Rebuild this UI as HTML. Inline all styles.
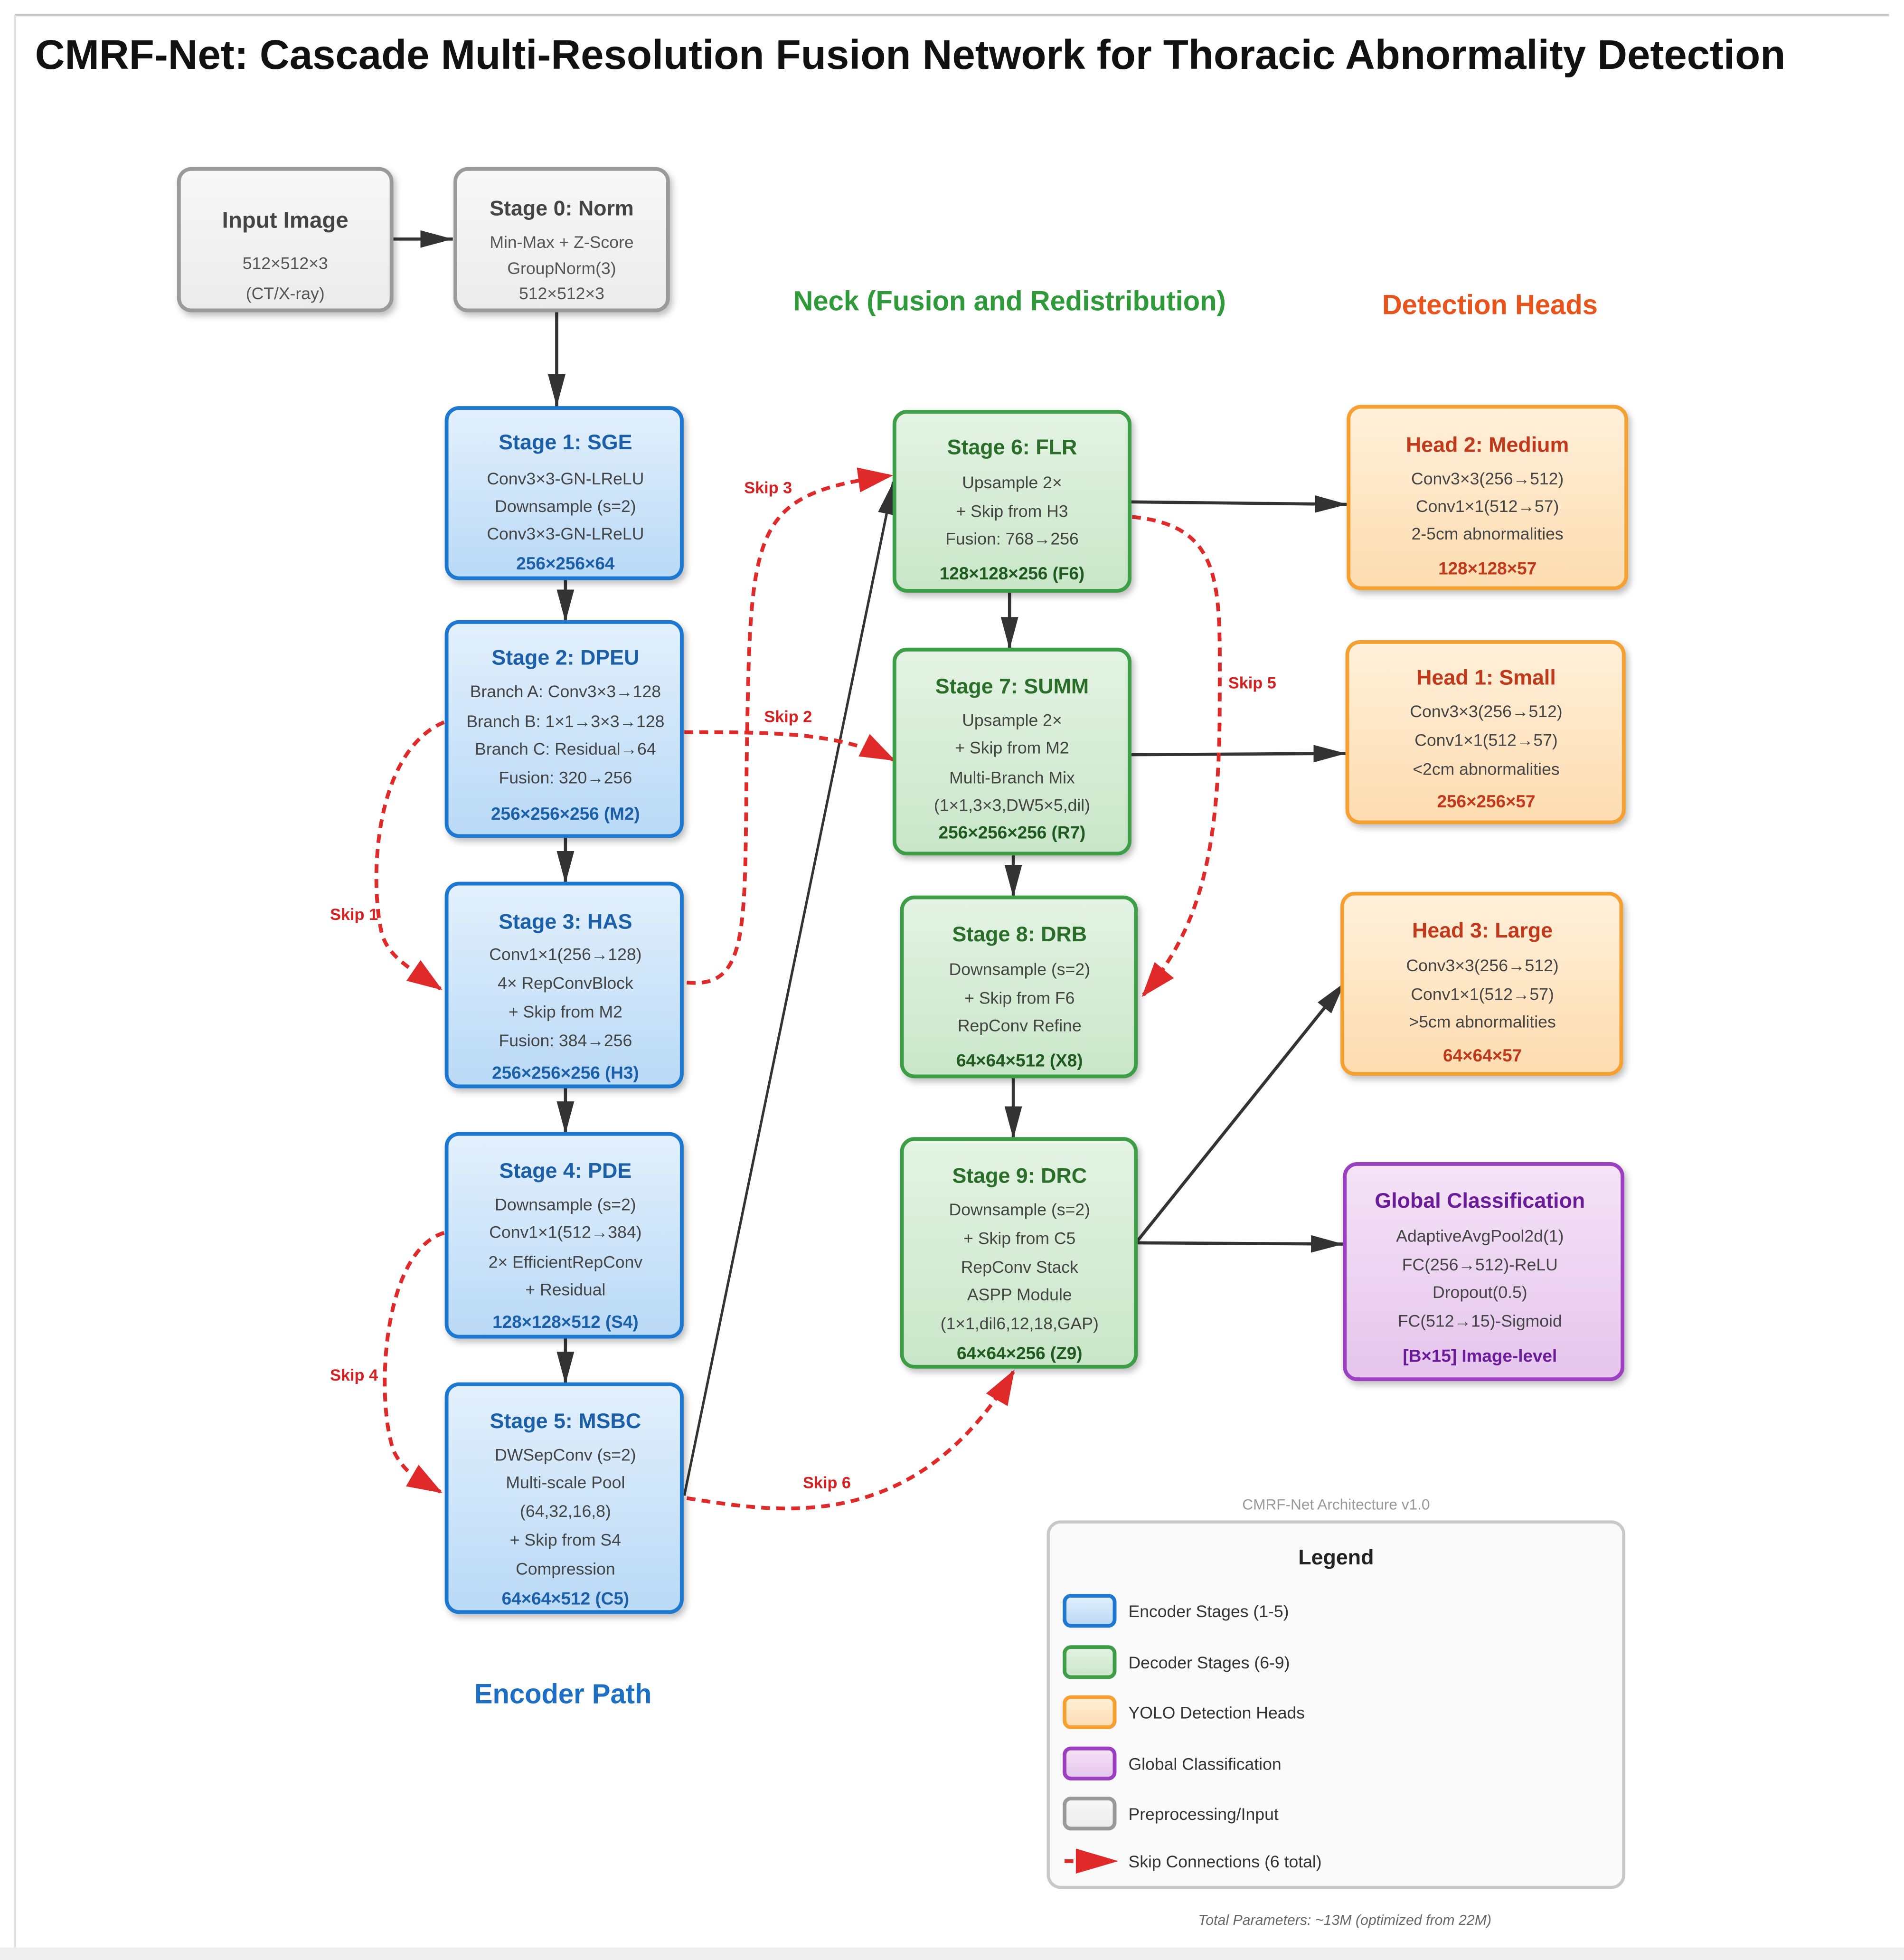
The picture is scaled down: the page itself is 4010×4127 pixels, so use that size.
<!DOCTYPE html>
<html><head><meta charset="utf-8"><style>
html,body{margin:0;padding:0;background:#fff;}
svg{display:block;}
text{font-family:"Liberation Sans",Arial,sans-serif;}
</style></head><body>
<svg width="4010" height="4127" viewBox="0 0 1522 1566" preserveAspectRatio="none" xmlns="http://www.w3.org/2000/svg">
<defs>
<linearGradient id="gb" x1="0" y1="0" x2="0" y2="1"><stop offset="0" stop-color="#e3f0fc"/><stop offset="1" stop-color="#b9d9f6"/></linearGradient>
<linearGradient id="gg" x1="0" y1="0" x2="0" y2="1"><stop offset="0" stop-color="#e4f3e4"/><stop offset="1" stop-color="#c9e6c9"/></linearGradient>
<linearGradient id="go" x1="0" y1="0" x2="0" y2="1"><stop offset="0" stop-color="#fff0da"/><stop offset="1" stop-color="#fddcb0"/></linearGradient>
<linearGradient id="gp" x1="0" y1="0" x2="0" y2="1"><stop offset="0" stop-color="#f5e3f7"/><stop offset="1" stop-color="#e5c5ec"/></linearGradient>
<linearGradient id="gy" x1="0" y1="0" x2="0" y2="1"><stop offset="0" stop-color="#f8f8f8"/><stop offset="1" stop-color="#ebebeb"/></linearGradient>
<marker id="ak" markerWidth="10" markerHeight="8" refX="9" refY="4" orient="auto" markerUnits="userSpaceOnUse"><path d="M0,0 L26,4 L0,8z" fill="#333"/></marker>
<marker id="ab" viewBox="0 0 26 14" markerWidth="26" markerHeight="14" refX="26" refY="7" orient="auto" markerUnits="userSpaceOnUse"><path d="M0,0 L26,7 L0,14z" fill="#333"/></marker>
<marker id="ar" viewBox="0 0 28 20" markerWidth="28" markerHeight="20" refX="26" refY="10" orient="auto" markerUnits="userSpaceOnUse"><path d="M0,0 L28,10 L0,20z" fill="#e02a2a"/></marker>
<filter id="sh" x="-10%" y="-10%" width="130%" height="130%"><feDropShadow dx="2" dy="3" stdDeviation="2.5" flood-color="#000" flood-opacity="0.25"/></filter>
</defs>
<rect x="0" y="0" width="1522" height="1566" fill="#fff"/>
<line x1="12" y1="12" x2="1510" y2="12" stroke="#ccc" stroke-width="2"/>
<line x1="12" y1="12" x2="12" y2="1556" stroke="#ddd" stroke-width="1.5"/>
<rect x="0" y="1556" width="1522" height="10" fill="#eee"/>
<text x="28" y="55" font-size="33" font-weight="bold" fill="#111">CMRF-Net: Cascade Multi-Resolution Fusion Network for Thoracic Abnormality Detection</text>

<text x="807" y="248" font-size="22" font-weight="bold" fill="#2e9a3a" text-anchor="middle">Neck (Fusion and Redistribution)</text>
<text x="1191" y="251" font-size="22" font-weight="bold" fill="#e8541c" text-anchor="middle">Detection Heads</text>
<text x="450" y="1361" font-size="22" font-weight="bold" fill="#1d6fc4" text-anchor="middle">Encoder Path</text>

<!-- solid connectors -->
<g stroke="#333" stroke-width="2.5" fill="none">
<line x1="313" y1="191" x2="362" y2="191" marker-end="url(#ab)"/>
<line x1="445" y1="248" x2="445" y2="325" marker-end="url(#ab)"/>
<line x1="452" y1="462" x2="452" y2="497" marker-end="url(#ab)"/>
<line x1="452" y1="668" x2="452" y2="706" marker-end="url(#ab)"/>
<line x1="452" y1="868" x2="452" y2="906" marker-end="url(#ab)"/>
<line x1="452" y1="1068" x2="452" y2="1106" marker-end="url(#ab)"/>
<line x1="807" y1="472" x2="807" y2="519" marker-end="url(#ab)"/>
<line x1="810" y1="682" x2="810" y2="717" marker-end="url(#ab)"/>
<line x1="810" y1="860" x2="810" y2="910" marker-end="url(#ab)"/>
<line x1="903" y1="401" x2="1077" y2="403" marker-end="url(#ab)"/>
<line x1="903" y1="603" x2="1076" y2="602" marker-end="url(#ab)"/>
<line x1="908" y1="993" x2="1074" y2="994" marker-end="url(#ab)"/>
<line x1="908" y1="993" x2="1075" y2="785" marker-end="url(#ab)"/>
<line x1="547" y1="1195" x2="714" y2="385" stroke-width="2" marker-end="url(#ab)"/>
</g>

<!-- skip connections -->
<g stroke="#e02a2a" stroke-width="3" fill="none" stroke-dasharray="7,5">
<path d="M355,577 C300,600 295,700 305,745 C310,765 330,775 352,790" marker-end="url(#ar)"/>
<path d="M547,585 C620,585 670,585 714,607" marker-end="url(#ar)"/>
<path d="M549,785 C600,790 595,740 597,600 C600,420 600,395 712,380" marker-end="url(#ar)"/>
<path d="M355,985 C305,1000 300,1120 315,1160 C325,1180 340,1185 352,1192" marker-end="url(#ar)"/>
<path d="M905,413 C980,420 975,470 975,560 C975,680 960,740 914,795" marker-end="url(#ar)"/>
<path d="M549,1197 C600,1205 660,1215 720,1185 C760,1165 790,1130 810,1096" marker-end="url(#ar)"/>
</g>
<g font-size="13" font-weight="bold" fill="#d42020" text-anchor="middle">
<text x="283" y="735">Skip 1</text>
<text x="630" y="577">Skip 2</text>
<text x="614" y="394">Skip 3</text>
<text x="283" y="1103">Skip 4</text>
<text x="1001" y="550">Skip 5</text>
<text x="661" y="1189">Skip 6</text>
</g>

<!-- gray boxes -->
<g filter="url(#sh)">
<rect x="143" y="135" width="170" height="113" rx="10" fill="url(#gy)" stroke="#9a9a9a" stroke-width="3"/>
<rect x="364" y="135" width="170" height="113" rx="10" fill="url(#gy)" stroke="#9a9a9a" stroke-width="3"/>
</g>
<g text-anchor="middle" fill="#555" font-size="13.5">
<text x="228" y="182" font-size="18" font-weight="bold" fill="#444">Input Image</text>
<text x="228" y="215">512×512×3</text>
<text x="228" y="239">(CT/X-ray)</text>
<text x="449" y="172" font-size="17" font-weight="bold" fill="#444">Stage 0: Norm</text>
<text x="449" y="198">Min-Max + Z-Score</text>
<text x="449" y="219">GroupNorm(3)</text>
<text x="449" y="239">512×512×3</text>
</g>

<!-- encoder boxes -->
<g filter="url(#sh)" fill="url(#gb)" stroke="#1f78d1" stroke-width="3">
<rect x="357" y="326" width="188" height="136" rx="10"/>
<rect x="357" y="497" width="188" height="171" rx="10"/>
<rect x="357" y="706" width="188" height="162" rx="10"/>
<rect x="357" y="906" width="188" height="162" rx="10"/>
<rect x="357" y="1106" width="188" height="182" rx="10"/>
</g>
<g text-anchor="middle" fill="#444" font-size="13.5">
<g font-size="17" font-weight="bold" fill="#1a5fa8">
<text x="452" y="359">Stage 1: SGE</text>
<text x="452" y="531">Stage 2: DPEU</text>
<text x="452" y="742">Stage 3: HAS</text>
<text x="452" y="941">Stage 4: PDE</text>
<text x="452" y="1141">Stage 5: MSBC</text>
</g>
<text x="452" y="387">Conv3×3-GN-LReLU</text>
<text x="452" y="409">Downsample (s=2)</text>
<text x="452" y="431">Conv3×3-GN-LReLU</text>
<text x="452" y="557">Branch A: Conv3×3→128</text>
<text x="452" y="581">Branch B: 1×1→3×3→128</text>
<text x="452" y="603">Branch C: Residual→64</text>
<text x="452" y="626">Fusion: 320→256</text>
<text x="452" y="767">Conv1×1(256→128)</text>
<text x="452" y="790">4× RepConvBlock</text>
<text x="452" y="813">+ Skip from M2</text>
<text x="452" y="836">Fusion: 384→256</text>
<text x="452" y="967">Downsample (s=2)</text>
<text x="452" y="989">Conv1×1(512→384)</text>
<text x="452" y="1013">2× EfficientRepConv</text>
<text x="452" y="1035">+ Residual</text>
<text x="452" y="1167">DWSepConv (s=2)</text>
<text x="452" y="1189">Multi-scale Pool</text>
<text x="452" y="1212">(64,32,16,8)</text>
<text x="452" y="1235">+ Skip from S4</text>
<text x="452" y="1258">Compression</text>
<g font-weight="bold" fill="#1a5fa8" font-size="14">
<text x="452" y="455">256×256×64</text>
<text x="452" y="655">256×256×256 (M2)</text>
<text x="452" y="862">256×256×256 (H3)</text>
<text x="452" y="1061">128×128×512 (S4)</text>
<text x="452" y="1282">64×64×512 (C5)</text>
</g>
</g>

<!-- neck boxes -->
<g filter="url(#sh)" fill="url(#gg)" stroke="#3d9e47" stroke-width="3">
<rect x="715" y="329" width="188" height="143" rx="10"/>
<rect x="715" y="519" width="188" height="163" rx="10"/>
<rect x="721" y="717" width="187" height="143" rx="10"/>
<rect x="721" y="910" width="187" height="182" rx="10"/>
</g>
<g text-anchor="middle" fill="#444" font-size="13.5">
<g font-size="17" font-weight="bold" fill="#2a6e2a">
<text x="809" y="363">Stage 6: FLR</text>
<text x="809" y="554">Stage 7: SUMM</text>
<text x="815" y="752">Stage 8: DRB</text>
<text x="815" y="945">Stage 9: DRC</text>
</g>
<text x="809" y="390">Upsample 2×</text>
<text x="809" y="413">+ Skip from H3</text>
<text x="809" y="435">Fusion: 768→256</text>
<text x="809" y="580">Upsample 2×</text>
<text x="809" y="602">+ Skip from M2</text>
<text x="809" y="626">Multi-Branch Mix</text>
<text x="809" y="648">(1×1,3×3,DW5×5,dil)</text>
<text x="815" y="779">Downsample (s=2)</text>
<text x="815" y="802">+ Skip from F6</text>
<text x="815" y="824">RepConv Refine</text>
<text x="815" y="971">Downsample (s=2)</text>
<text x="815" y="994">+ Skip from C5</text>
<text x="815" y="1017">RepConv Stack</text>
<text x="815" y="1039">ASPP Module</text>
<text x="815" y="1062">(1×1,dil6,12,18,GAP)</text>
<g font-weight="bold" fill="#1f5a1f" font-size="14">
<text x="809" y="463">128×128×256 (F6)</text>
<text x="809" y="670">256×256×256 (R7)</text>
<text x="815" y="852">64×64×512 (X8)</text>
<text x="815" y="1086">64×64×256 (Z9)</text>
</g>
</g>

<!-- heads -->
<g filter="url(#sh)" stroke-width="3">
<rect x="1078" y="325" width="222" height="145" rx="10" fill="url(#go)" stroke="#f5a030"/>
<rect x="1077" y="513" width="221" height="144" rx="10" fill="url(#go)" stroke="#f5a030"/>
<rect x="1073" y="714" width="223" height="144" rx="10" fill="url(#go)" stroke="#f5a030"/>
<rect x="1075" y="930" width="222" height="172" rx="10" fill="url(#gp)" stroke="#9b3fc0"/>
</g>
<g text-anchor="middle" fill="#444" font-size="13.5">
<g font-size="17" font-weight="bold" fill="#c0391b">
<text x="1189" y="361">Head 2: Medium</text>
<text x="1188" y="547">Head 1: Small</text>
<text x="1185" y="749">Head 3: Large</text>
</g>
<text x="1183" y="965" font-size="17" font-weight="bold" fill="#6a1b9a">Global Classification</text>
<text x="1189" y="387">Conv3×3(256→512)</text>
<text x="1189" y="409">Conv1×1(512→57)</text>
<text x="1189" y="431">2-5cm abnormalities</text>
<text x="1188" y="573">Conv3×3(256→512)</text>
<text x="1188" y="596">Conv1×1(512→57)</text>
<text x="1188" y="619">&lt;2cm abnormalities</text>
<text x="1185" y="776">Conv3×3(256→512)</text>
<text x="1185" y="799">Conv1×1(512→57)</text>
<text x="1185" y="821">&gt;5cm abnormalities</text>
<text x="1183" y="992">AdaptiveAvgPool2d(1)</text>
<text x="1183" y="1015">FC(256→512)-ReLU</text>
<text x="1183" y="1037">Dropout(0.5)</text>
<text x="1183" y="1060">FC(512→15)-Sigmoid</text>
<g font-weight="bold" fill="#c0391b" font-size="14">
<text x="1189" y="459">128×128×57</text>
<text x="1188" y="645">256×256×57</text>
<text x="1185" y="848">64×64×57</text>
</g>
<text x="1183" y="1088" font-weight="bold" font-size="14" fill="#6a1b9a">[B×15] Image-level</text>
</g>

<!-- legend -->
<text x="1068" y="1206" font-size="12" fill="#999" text-anchor="middle">CMRF-Net Architecture v1.0</text>
<rect x="838" y="1216" width="460" height="292" rx="10" fill="#fafafa" stroke="#c8c8c8" stroke-width="2.5"/>
<text x="1068" y="1250" font-size="17" font-weight="bold" fill="#222" text-anchor="middle">Legend</text>
<g stroke-width="3">
<rect x="851" y="1275" width="40" height="24" rx="5" fill="url(#gb)" stroke="#1f78d1"/>
<rect x="851" y="1316" width="40" height="24" rx="5" fill="url(#gg)" stroke="#3d9e47"/>
<rect x="851" y="1356" width="40" height="24" rx="5" fill="url(#go)" stroke="#f5a030"/>
<rect x="851" y="1397" width="40" height="24" rx="5" fill="url(#gp)" stroke="#9b3fc0"/>
<rect x="851" y="1437" width="40" height="24" rx="5" fill="url(#gy)" stroke="#999"/>
</g>
<line x1="851" y1="1487" x2="858" y2="1487" stroke="#e02a2a" stroke-width="3"/>
<path d="M860,1477 L894,1487 L860,1497z" fill="#e02a2a"/>
<g font-size="13.5" fill="#333">
<text x="902" y="1292">Encoder Stages (1-5)</text>
<text x="902" y="1333">Decoder Stages (6-9)</text>
<text x="902" y="1373">YOLO Detection Heads</text>
<text x="902" y="1414">Global Classification</text>
<text x="902" y="1454">Preprocessing/Input</text>
<text x="902" y="1492">Skip Connections (6 total)</text>
</g>
<text x="1075" y="1538" font-size="11.5" font-style="italic" fill="#666" text-anchor="middle">Total Parameters: ~13M (optimized from 22M)</text>
</svg>
</body></html>
